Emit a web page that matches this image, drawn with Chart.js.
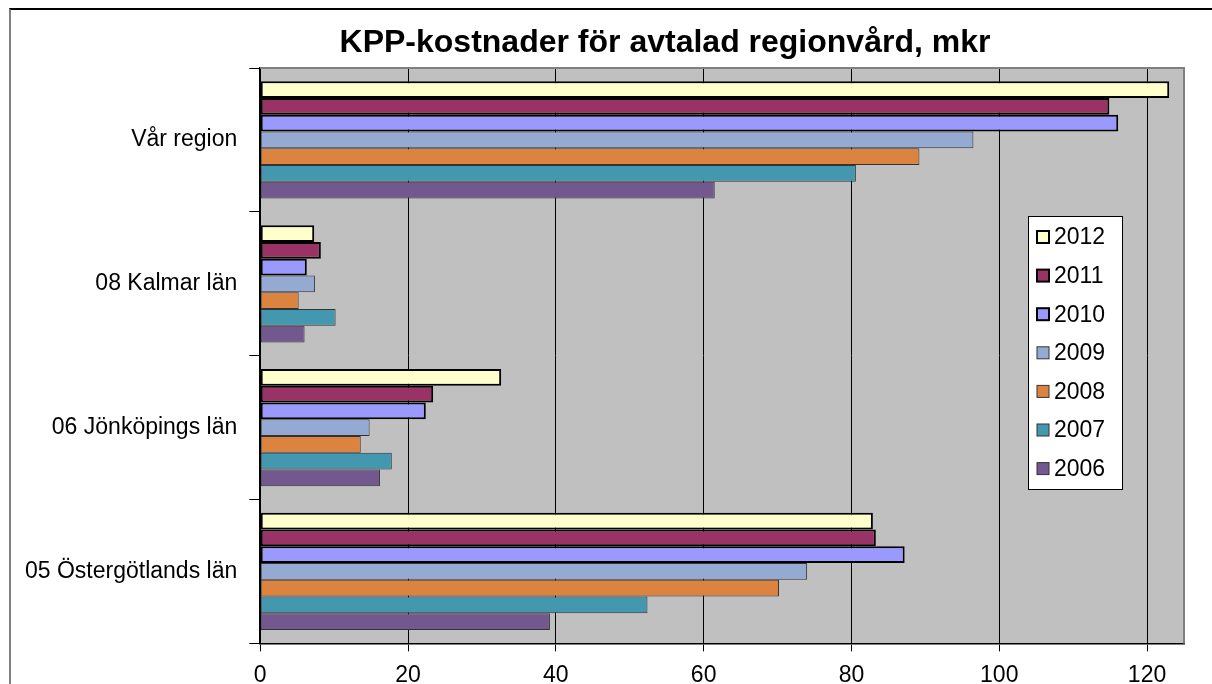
<!DOCTYPE html>
<html lang="sv">
<head>
<meta charset="utf-8">
<title>KPP-kostnader för avtalad regionvård, mkr</title>
<script src="https://cdn.jsdelivr.net/npm/chart.js@4.4.1/dist/chart.umd.min.js"></script>
<style>
  html, body { margin: 0; padding: 0; background: #fff; overflow: hidden; width: 1212px; height: 684px; }
  #kpp { position: absolute; left: 0; top: 0; }
  #frame { position: absolute; left: 9px; top: 8px; width: 1400px; height: 800px;
           border-left: 2px solid #808080; border-top: 2px solid #000; pointer-events: none; }
</style>
</head>
<body>
<canvas id="kpp" width="1330" height="700"></canvas>
<div id="frame"></div>
<script>
'use strict';

/* Data (mkr) */
const regions = ['Vår region', '08 Kalmar län', '06 Jönköpings län', '05 Östergötlands län'];
const years   = ['2012', '2011', '2010', '2009', '2008', '2007', '2006'];
const v2012 = [123.0,  7.3, 32.6, 82.9];
const v2011 = [114.9,  8.2, 23.4, 83.3];
const v2010 = [116.1,  6.3, 22.4, 87.2];
const v2009 = [ 96.5,  7.4, 14.8, 74.0];
const v2008 = [ 89.2,  5.2, 13.6, 70.2];
const v2007 = [ 80.6, 10.2, 17.8, 52.4];
const v2006 = [ 61.5,  6.0, 16.2, 39.2];
const xTicks = [0, 20, 40, 60, 80, 100, 120];

const series = [v2012, v2011, v2010, v2009, v2008, v2007, v2006];
const fills  = ['#FFFFCC', '#993366', '#9999FF', '#95AAD2', '#DD8340', '#4398B0', '#72588E'];
const FONT = '"Liberation Sans", Arial, sans-serif';
const TITLE = 'KPP-kostnader för avtalad regionvård, mkr';

/* Title centred on the whole (partly cropped) chart object */
const chartTitle = {
  id: 'chartTitle',
  afterDraw(chart) {
    const { ctx } = chart;
    ctx.save();
    ctx.font = 'bold 32px ' + FONT;
    ctx.fillStyle = '#000';
    ctx.textAlign = 'center';
    ctx.textBaseline = 'middle';
    ctx.fillText(TITLE, chart.width / 2, 43);
    ctx.restore();
  }
};

/* Plot background + grey top/right frame (Excel style) */
const plotFrame = {
  id: 'plotFrame',
  beforeDraw(chart) {
    const { ctx, chartArea: a } = chart;
    ctx.save();
    ctx.fillStyle = '#C0C0C0';
    ctx.fillRect(a.left, a.top, a.right - a.left, a.bottom - a.top);
    ctx.restore();
  },
  afterDatasetsDraw(chart) {
    const { ctx, chartArea: a } = chart;
    ctx.save();
    ctx.strokeStyle = '#808080';
    ctx.lineWidth = 2;
    ctx.beginPath();
    ctx.moveTo(a.left, a.top);
    ctx.lineTo(a.right, a.top);
    ctx.lineTo(a.right, a.bottom);
    ctx.stroke();
    ctx.restore();
  }
};

/* Legend box sitting inside the plot area */
const boxLegend = {
  id: 'boxLegend',
  afterDraw(chart) {
    const { ctx, chartArea: a } = chart;
    const left = a.right - 156, top = a.top + 148, w = 94, h = 273;
    ctx.save();
    ctx.fillStyle = '#fff';
    ctx.fillRect(left, top, w, h);
    ctx.strokeStyle = '#000';
    ctx.lineWidth = 1;
    ctx.strokeRect(left + 0.5, top + 0.5, w, h);
    ctx.font = '23px ' + FONT;
    ctx.textBaseline = 'middle';
    chart.data.datasets.forEach((ds, i) => {
      const cy = top + 21 + i * 38.6;
      ctx.fillStyle = ds.backgroundColor;
      ctx.fillRect(left + 9, cy - 6, 12, 12);
      ctx.strokeStyle = ds.borderColor;
      ctx.lineWidth = ds.borderWidth;
      ctx.strokeRect(left + 9, cy - 6, 12, 12);
      ctx.fillStyle = '#000';
      ctx.fillText(ds.label, left + 26, cy + 1);
    });
    ctx.restore();
  }
};

new Chart(document.getElementById('kpp'), {
  type: 'bar',
  data: {
    labels: regions,
    datasets: years.map((y, i) => ({
      label: y,
      data: series[i],
      backgroundColor: fills[i],
      borderColor: i < 3 ? '#000' : '#333',
      borderWidth: i < 3 ? 2 : 1,
      borderSkipped: false,
      categoryPercentage: 0.815,
      barPercentage: 1.0,
    }))
  },
  options: {
    indexAxis: 'y',
    responsive: false,
    animation: false,
    layout: { padding: { left: 13, right: 146, top: 68, bottom: 1 } },
    plugins: {
      legend: { display: false },
      tooltip: { enabled: false },
      title: { display: false }
    },
    scales: {
      x: {
        min: 0,
        max: 125,
        afterBuildTicks: s => { s.ticks = xTicks.map(v => ({ value: v })); },
        grid: { color: '#000', lineWidth: 1, tickLength: 8, drawOnChartArea: true },
        border: { display: true, color: '#000', width: 1.5 },
        ticks: { color: '#000', padding: 10, font: { family: FONT, size: 23 } }
      },
      y: {
        grid: { offset: true, drawOnChartArea: false, color: '#000', tickLength: 11 },
        border: { display: true, color: '#000', width: 1.5 },
        ticks: { color: '#000', padding: 12, font: { family: FONT, size: 23 } }
      }
    }
  },
  plugins: [plotFrame, boxLegend, chartTitle]
});
</script>
</body>
</html>
